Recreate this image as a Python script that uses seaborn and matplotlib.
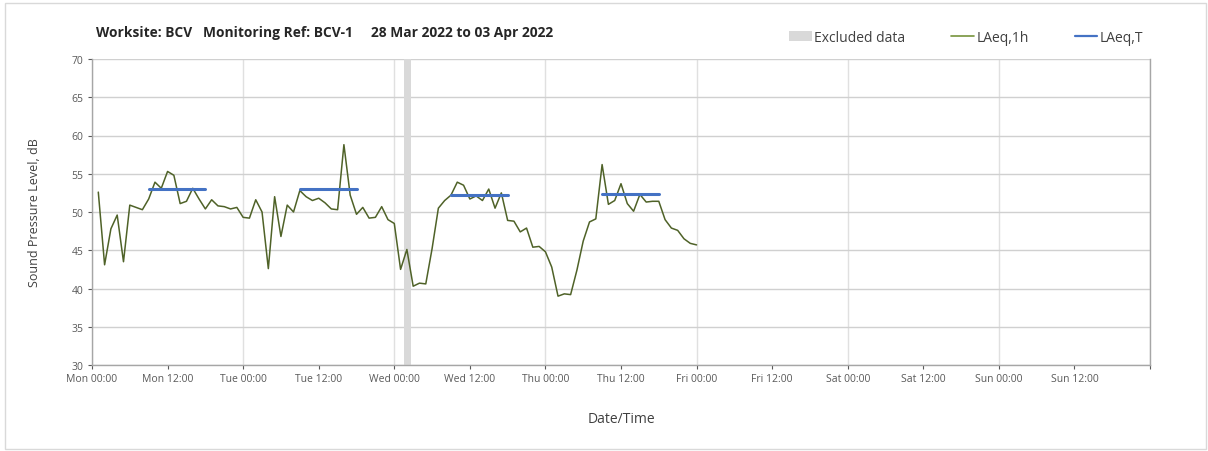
import pandas as pd
import seaborn as sns
import matplotlib.pyplot as plt
import matplotlib.dates as mdates
from matplotlib.patches import Patch
from matplotlib.lines import Line2D

# hourly LAeq values, Mon 01:00 .. Fri 00:00
start = "2022-03-28 01:00"
laeq_1h = [52.6, 43.1, 47.8, 49.6, 43.5, 50.9, 50.6, 50.3, 51.7, 53.9, 53.1, 55.3,
           54.8, 51.1, 51.4, 53.1, 51.7, 50.4, 51.6, 50.8, 50.7, 50.4, 50.6, 49.3,
           49.2, 51.6, 50.0, 42.6, 52.0, 46.8, 50.9, 50.0, 52.8, 52.0, 51.5, 51.8,
           51.2, 50.4, 50.3, 58.8, 52.2, 49.7, 50.6, 49.2, 49.3, 50.7, 49.0, 48.5,
           42.5, 45.1, 40.3, 40.7, 40.6, 45.2, 50.5, 51.5, 52.2, 53.9, 53.5, 51.7,
           52.1, 51.5, 53.0, 50.5, 52.5, 48.9, 48.8, 47.4, 47.9, 45.4, 45.5, 44.8,
           42.8, 39.0, 39.3, 39.2, 42.4, 46.2, 48.7, 49.1, 56.2, 51.0, 51.5, 53.7,
           51.1, 50.1, 52.3, 51.3, 51.4, 51.4, 49.0, 47.9, 47.6, 46.5, 45.9, 45.7]

# daytime period averages (LAeq,T)
period_start = ["2022-03-28 09:00", "2022-03-29 09:00", "2022-03-30 09:00", "2022-03-31 09:00"]
period_end = ["2022-03-28 18:00", "2022-03-29 18:00", "2022-03-30 18:00", "2022-03-31 18:00"]
laeq_t = [53.0, 53.0, 52.2, 52.4]

# excluded data window
excl_start = "2022-03-30 01:36"
excl_end = "2022-03-30 02:36"

df = pd.DataFrame({"time": pd.date_range(start, periods=len(laeq_1h), freq="h"),
                   "LAeq": laeq_1h})

green = "#4F6228"
blue = "#4472C4"
grey_txt = "#595959"

sns.set_style("white")
plt.rcParams['font.family'] = ['Open Sans', 'DejaVu Sans']

fig = plt.figure(figsize=(12.08, 4.52), dpi=100)
ax = fig.add_axes([92 / 1208, 1 - 366 / 452, 1058 / 1208, 306 / 452])

ax.axvspan(pd.Timestamp(excl_start), pd.Timestamp(excl_end), color="#D9D9D9", lw=0, zorder=1)
sns.lineplot(data=df, x="time", y="LAeq", color=green, lw=1.1, ax=ax, zorder=3)
for s, e, v in zip(period_start, period_end, laeq_t):
    ax.plot([pd.Timestamp(s), pd.Timestamp(e)], [v, v], color=blue, lw=2.2, zorder=4)

ax.set_xlim(pd.Timestamp("2022-03-28 00:00"), pd.Timestamp("2022-04-04 00:00"))
ax.set_ylim(30, 70)
ax.set_yticks(range(30, 71, 5))

ax.xaxis.set_major_locator(mdates.HourLocator(byhour=[0, 12]))
ax.xaxis.set_major_formatter(mdates.DateFormatter("%a %H:%M"))
ax.xaxis.set_minor_locator(mdates.DayLocator())
ax.xaxis.remove_overlapping_locs = False
ax.grid(False)
ax.grid(True, axis="y", which="major", color="#D0D0D0", lw=1, zorder=0)
ax.grid(True, axis="x", which="minor", color="#E0E0E0", lw=1, zorder=0)
ax.set_axisbelow(True)

# last tick label (next Mon 00:00) is not shown
labels = ax.get_xticks()
ax.set_xticks(labels)
ax.set_xticklabels([mdates.num2date(t).strftime("%a %H:%M") if i < len(labels) - 1 else ""
                    for i, t in enumerate(labels)])

ax.tick_params(axis="both", which="major", labelsize=7.5, colors=grey_txt,
               length=3, width=0.8, direction="out", bottom=True, left=True, pad=3)
ax.tick_params(axis="x", which="minor", length=0)
for sp in ["left", "bottom", "right"]:
    ax.spines[sp].set_color("#A6A6A6")
    ax.spines[sp].set_linewidth(1)
ax.spines["top"].set_visible(False)

ax.set_xlabel("Date/Time", fontsize=10, color="#404040", labelpad=19)
ax.set_ylabel("Sound Pressure Level, dB", fontsize=9, color="#404040", labelpad=22)

fig.text(96 / 1208, 1 - 33 / 452,
         "Worksite: BCV   Monitoring Ref: BCV-1     28 Mar 2022 to 03 Apr 2022",
         fontsize=9.9, fontweight="bold", color="#262626", ha="left", va="center")

handles = [Patch(facecolor="#D9D9D9", edgecolor="none", label="Excluded data"),
           Line2D([], [], color="#77933C", lw=1.2, label="LAeq,1h"),
           Line2D([], [], color=blue, lw=1.6, label="LAeq,T")]
fig.legend(handles=handles, loc="center right", bbox_to_anchor=(1143 / 1208, 1 - 38 / 452),
           ncol=3, frameon=False, fontsize=10, handlelength=1.6, handleheight=0.7,
           handletextpad=0.2, columnspacing=3.3, labelcolor="#404040",
           borderpad=0, borderaxespad=0)

# outer chart border
fig.patches.append(plt.Rectangle((5 / 1208, 2 / 452), 1201 / 1208, 446 / 452, transform=fig.transFigure,
                                 fill=False, edgecolor="#D9D9D9", lw=1))

fig.savefig("out.png", dpi=100)
